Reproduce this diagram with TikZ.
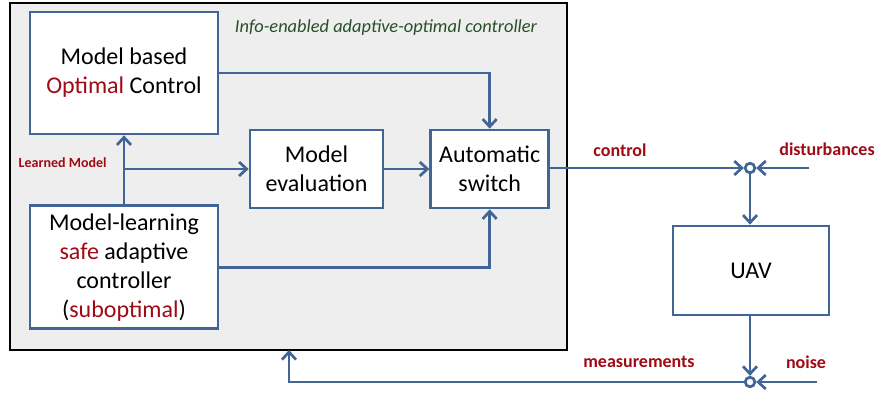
\documentclass[tikz,border=0pt]{standalone}
\usepackage{fontspec}
\setmainfont{Carlito}
\usepackage{tikz}
\usetikzlibrary{arrows.meta,
                calc,
                positioning}
\definecolor{lineblue}{RGB}{64,101,150}
\definecolor{labelred}{RGB}{160,10,20}
\definecolor{titlegreen}{RGB}{40,80,40}
\definecolor{panelgray}{RGB}{238,238,238}

\begin{document}
\begin{tikzpicture}[x=0.5pt, y=-0.5pt]
    \tikzset
    {
        base/.style = {draw = lineblue,
                       line width = 1.35pt,
                       fill = white,
                       align = center,
                       inner sep = 0pt,
                       font = \fontsize{12}{14.5}\selectfont},
        block/.style = {base,
                        rectangle,
                        minimum width = 94pt,
                        minimum height = 61pt},
        smallblock/.style = {base,
                             rectangle,
                             minimum height = 39pt},
        junction/.style = {draw = lineblue,
                           line width = 1.35pt,
                           circle,
                           fill = white,
                           inner sep = 0pt,
                           minimum size = 4.8pt},
        signal/.style = {font = \fontsize{9}{11}\selectfont\bfseries,
                         text = labelred},
        wire/.style = {draw = lineblue,
                       line width = 1.35pt,
                       arrows = -{Straight Barb[length=3.8pt, width=7pt]}}
    };

    \useasboundingbox (0,0) rectangle (876,392);

    % Controller panel
    \draw[line width = 1.4pt, fill = panelgray] (10,3) rectangle (567,350);
    \node[font = \fontsize{9.2}{11}\selectfont\itshape, text = titlegreen]
        (title) at (386,28) {Info-enabled adaptive-optimal controller};

    % Row #
    % 1
    \node[block] (optimal) at (124,73)
        {Model based\\ \textcolor{labelred}{Optimal} Control};
    % 2
    \node[block, minimum height = 61.5pt] (learning) [below=34.5pt of optimal]
        {Model-learning\\ \textcolor{labelred}{safe} adaptive\\ controller\\
         (\textcolor{labelred}{suboptimal})};
    \node[smallblock, minimum width = 66.5pt] (eval) at (316.5,169)
        {Model\\ evaluation};
    \node[smallblock, minimum width = 59pt] (switch) [right=22.5pt of eval]
        {Automatic\\ switch};
    % 3
    \node[junction] (sum dist) at (750,168) {};
    \node[block, minimum width = 78pt, minimum height = 44.5pt] (uav) at (751,270.5) {UAV};
    \node[junction] (sum noise) at (750,382) {};

    % Free ends
    \coordinate (dist in) at (809,168);
    \coordinate (noise in) at (817,382);
    \coordinate (fb corner) at (289,382);
    \coordinate (fb end) at (289,350);
    \coordinate (branch) at (learning.north |- eval.west);

    % Labels
    \node[signal, font = \fontsize{7}{8}\selectfont\bfseries, anchor = east,
          inner sep = 0pt]
        (learned) at (107,163) {Learned Model};
    \node[signal] (control) at (620,150) {control};
    \node[signal] (disturbances) at (827,149) {disturbances};
    \node[signal] (measurements) at (639,362) {measurements};
    \node[signal] (noise) at (806,362) {noise};

    % Arrows
    \draw[wire] (learning.north) -- (optimal.south);
    \draw[wire] (branch) -- (eval.west);
    \draw[wire] (eval.east) -- (switch.west);
    \draw[wire] (optimal.east) -| (switch.north);
    \draw[wire] (learning.east) -| (switch.south);
    \draw[wire] (switch.east |- sum dist) -- (sum dist.west);
    \draw[wire] (dist in) -- (sum dist.east);
    \draw[wire] (sum dist.south) -- (uav.north -| sum dist);
    \draw[wire] (uav.south -| sum noise) -- (sum noise.north);
    \draw[wire] (noise in) -- (sum noise.east);
    \draw[wire] (sum noise.west) -- (fb corner) -- (fb end);

\end{tikzpicture}
\end{document}
